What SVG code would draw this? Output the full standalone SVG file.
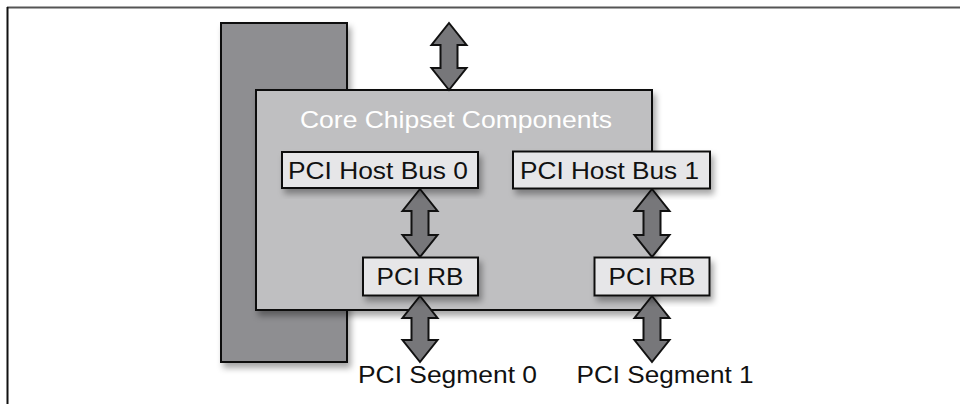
<svg xmlns="http://www.w3.org/2000/svg" width="960" height="404" viewBox="0 0 960 404">
  <style>
    .frame { fill: none; stroke-width: 2; }
    .side { fill: #8e8e91; stroke: #111; stroke-width: 2; }
    .main { fill: #bfbfc1; stroke: #111; stroke-width: 2; }
    .box { fill: #e6e6e8; stroke: #111; stroke-width: 2; }
    .arrow { fill: #77777a; stroke: #111; stroke-width: 2; stroke-linejoin: miter; }
    text { font-family: "Liberation Sans", Arial, sans-serif; font-size: 24px; fill: #111; text-anchor: middle; }
    .title { fill: #ffffff; }
  </style>
  <defs>
    <filter id="sh" x="-20%" y="-20%" width="140%" height="150%">
      <feDropShadow dx="3" dy="5" stdDeviation="3" flood-color="#000" flood-opacity="0.35"/>
    </filter>
  </defs>
  <rect width="960" height="404" fill="#ffffff"/>
  <g id="frame">
    <line class="frame" x1="7" y1="7.5" x2="960" y2="7.5" stroke="#555"/>
    <line class="frame" x1="7.5" y1="7" x2="7.5" y2="404" stroke="#111"/>
  </g>
  <g id="side-block">
    <rect class="side" x="221" y="23" width="126" height="339" filter="url(#sh)"/>
  </g>
  <g id="core-chipset">
    <rect class="main" x="256" y="90" width="396" height="220" filter="url(#sh)"/>
    <text class="title" x="456" y="128" textLength="312" lengthAdjust="spacingAndGlyphs">Core Chipset Components</text>
  </g>
  <g id="connectors">
    <path class="arrow" d="M449,23 L466.5,45 L457.5,45 L457.5,68 L466.5,68 L449,90 L431.5,68 L440.5,68 L440.5,45 L431.5,45 Z"/>
    <path class="arrow" d="M420,189 L437.5,211 L428.5,211 L428.5,235 L437.5,235 L420,257 L402.5,235 L411.5,235 L411.5,211 L402.5,211 Z"/>
    <path class="arrow" d="M420,296 L437.5,318 L428.5,318 L428.5,340 L437.5,340 L420,362 L402.5,340 L411.5,340 L411.5,318 L402.5,318 Z"/>
    <path class="arrow" d="M652,189 L669.5,211 L660.5,211 L660.5,235 L669.5,235 L652,257 L634.5,235 L643.5,235 L643.5,211 L634.5,211 Z"/>
    <path class="arrow" d="M652,296 L669.5,318 L660.5,318 L660.5,340 L669.5,340 L652,362 L634.5,340 L643.5,340 L643.5,318 L634.5,318 Z"/>
  </g>
  <g id="host-bus-0">
    <rect class="box" x="282" y="152" width="196" height="36" filter="url(#sh)"/>
    <text x="378" y="179" textLength="180" lengthAdjust="spacingAndGlyphs">PCI Host Bus 0</text>
  </g>
  <g id="host-bus-1">
    <rect class="box" x="513" y="151.5" width="197" height="37" filter="url(#sh)"/>
    <text x="609.5" y="179" textLength="179" lengthAdjust="spacingAndGlyphs">PCI Host Bus 1</text>
  </g>
  <g id="rb-0">
    <rect class="box" x="363" y="257.5" width="115" height="38" filter="url(#sh)"/>
    <text x="420" y="285" textLength="87" lengthAdjust="spacingAndGlyphs">PCI RB</text>
  </g>
  <g id="rb-1">
    <rect class="box" x="594.5" y="257.5" width="115" height="38" filter="url(#sh)"/>
    <text x="652" y="285" textLength="87" lengthAdjust="spacingAndGlyphs">PCI RB</text>
  </g>
  <g id="segment-0">
    <text x="447.5" y="383" textLength="179" lengthAdjust="spacingAndGlyphs">PCI Segment 0</text>
  </g>
  <g id="segment-1">
    <text x="665" y="383" textLength="177" lengthAdjust="spacingAndGlyphs">PCI Segment 1</text>
  </g>
</svg>
